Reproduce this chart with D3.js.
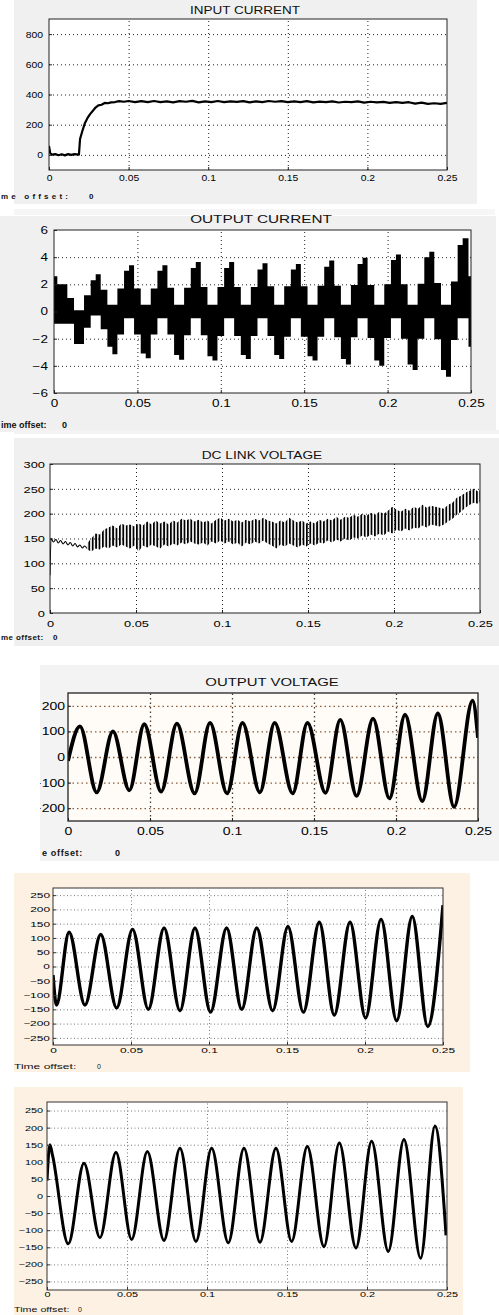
<!DOCTYPE html>
<html>
<head>
<meta charset="utf-8">
<title>Scope traces</title>
<style>
  body { margin: 0; background: #fff; }
  svg { display: block; font-family: "Liberation Sans", Arial, sans-serif; }
</style>
</head>
<body>
<div id="chart"></div>
<script src="https://d3js.org/d3.v7.min.js"></script>
<script>
// shared time axis (s)
var timeTicks = [0, 0.05, 0.1, 0.15, 0.2, 0.25];
var timeTickLabels = ["0", "0.05", "0.1", "0.15", "0.2", "0.25"];

// y ticks of each scope
var inTicks = [0, 200, 400, 600, 800];
var curTicks = [-6, -4, -2, 0, 2, 4, 6];
var dcTicks = [0, 50, 100, 150, 200, 250, 300];
var ovTicks = [-200, -100, 0, 100, 200];
var vTicks = [-250, -200, -150, -100, -50, 0, 50, 100, 150, 200, 250];

// INPUT CURRENT  [t, A]
var inputCurrent = [[0,60],[0.0008,10],[0.002,2],[0.004,5],[0.006,-2],[0.008,4],[0.010,-3],[0.012,5],
  [0.014,0],[0.016,5],[0.0188,2],[0.0195,105],[0.021,160],[0.0226,212],[0.0242,245],[0.0258,270],
  [0.029,311],[0.031,328],[0.033,332],[0.035,344],[0.037,342],[0.039,348],[0.0415,350],[0.044,356],
  [0.047,352],[0.05,357],[0.054,350],[0.058,356],[0.062,349],[0.066,357],[0.07,350],[0.074,355],
  [0.078,348],[0.082,356],[0.086,352],[0.09,358],[0.094,348],[0.098,355],[0.102,350],[0.106,357],
  [0.11,349],[0.114,355],[0.118,351],[0.122,356],[0.126,348],[0.13,355],[0.134,350],[0.138,357],
  [0.142,352],[0.146,356],[0.15,349],[0.154,354],[0.158,350],[0.162,356],[0.166,348],[0.17,353],
  [0.174,350],[0.178,355],[0.182,347],[0.186,352],[0.19,349],[0.194,354],[0.198,346],[0.202,352],
  [0.206,348],[0.21,351],[0.214,345],[0.218,350],[0.222,344],[0.226,349],[0.23,340],[0.234,346],
  [0.238,338],[0.242,342],[0.246,338],[0.25,344]];

// OUTPUT CURRENT switching band  [t, lower, upper] (held until next t)
var outputCurrent = [[0,-0.9,2.6],[0.002,-0.9,2.0],[0.008,-0.9,1.0],[0.012,-2.4,0.1],[0.018,-1.2,1.2],
  [0.022,-0.3,2.3],[0.025,-0.3,2.75],[0.028,-1.3,1.6],[0.032,-2.6,0.5],[0.035,-3.15,0.5],[0.038,-1.7,1.7],
  [0.042,-0.5,3.0],[0.045,-0.5,3.4],[0.048,-1.7,1.7],[0.052,-3.1,0.5],[0.055,-3.45,0.5],[0.058,-1.7,1.7],
  [0.062,-0.5,3.0],[0.065,-0.5,3.4],[0.068,-1.7,1.75],[0.072,-3.2,0.5],[0.075,-3.55,0.5],[0.078,-1.75,1.75],
  [0.082,-0.5,3.2],[0.085,-0.5,3.65],[0.088,-1.75,1.8],[0.092,-3.3,0.5],[0.095,-3.6,0.5],[0.098,-1.8,1.8],
  [0.102,-0.5,3.2],[0.105,-0.5,3.65],[0.108,-1.8,1.8],[0.112,-3.2,0.5],[0.115,-3.5,0.5],[0.118,-1.8,1.8],
  [0.122,-0.5,3.1],[0.125,-0.5,3.55],[0.128,-1.8,1.85],[0.132,-3.2,0.5],[0.135,-3.5,0.5],[0.138,-1.85,1.85],
  [0.142,-0.5,3.1],[0.145,-0.5,3.5],[0.148,-1.85,1.85],[0.152,-3.3,0.5],[0.155,-3.6,0.5],[0.158,-1.85,1.9],
  [0.162,-0.5,3.3],[0.165,-0.5,3.75],[0.168,-1.9,1.9],[0.172,-3.5,0.5],[0.175,-3.9,0.5],[0.178,-1.9,1.95],
  [0.182,-0.5,3.5],[0.185,-0.5,3.95],[0.188,-1.95,1.95],[0.192,-3.6,0.5],[0.195,-4.0,0.5],[0.198,-1.95,2.0],
  [0.202,-0.5,3.8],[0.205,-0.5,4.2],[0.208,-2.0,2.0],[0.212,-3.9,0.5],[0.215,-4.3,0.5],[0.218,-2.0,2.05],
  [0.222,-0.5,4.0],[0.225,-0.5,4.4],[0.228,-2.05,2.1],[0.232,-4.3,0.5],[0.235,-4.8,0.5],[0.238,-2.1,2.2],
  [0.242,-0.5,4.9],[0.245,-0.5,5.4],[0.2485,-2.6,2.6],[0.25,-2.6,2.6]];

// DC LINK VOLTAGE: start-up trace [t, V] then ripple band [t, lower, upper]
var dcStart = [[0,76],[0.0006,150],[0.002,143],[0.0035,148],[0.0048,141],[0.0062,146],[0.0076,139],
  [0.009,144],[0.0104,137],[0.0118,142],[0.0132,135],[0.0146,140],[0.016,133],[0.0174,137],[0.0188,131],
  [0.0202,135],[0.0215,130]];
var dcBand = [[0.0215,128,140],[0.024,124,150],[0.0265,130,160],[0.029,128,158],[0.0315,134,168],
  [0.034,130,172],[0.0365,136,176],[0.039,132,170],[0.0415,138,180],[0.044,134,176],[0.0465,130,178],
  [0.049,136,174],[0.0515,124,180],[0.054,136,176],[0.0565,132,184],[0.059,138,178],[0.0615,134,186],
  [0.064,130,180],[0.0665,138,184],[0.069,134,178],[0.0715,140,186],[0.074,136,182],[0.0765,142,190],
  [0.079,138,186],[0.0815,144,190],[0.084,140,184],[0.0865,138,188],[0.089,142,182],[0.0915,136,186],
  [0.094,144,180],[0.0965,140,188],[0.099,146,192],[0.1015,140,186],[0.104,144,190],[0.1065,138,184],
  [0.109,142,188],[0.1115,134,182],[0.114,142,188],[0.1165,138,184],[0.119,144,190],[0.1215,140,186],
  [0.124,146,192],[0.1265,140,186],[0.129,136,184],[0.1315,130,180],[0.134,138,186],[0.1365,134,182],
  [0.139,140,192],[0.1415,136,186],[0.144,132,182],[0.1465,138,186],[0.149,134,180],[0.1515,140,184],
  [0.154,136,180],[0.1565,142,188],[0.159,140,184],[0.1615,146,190],[0.164,142,186],[0.1665,148,194],
  [0.169,144,188],[0.1715,150,194],[0.174,146,192],[0.1765,152,198],[0.179,150,194],[0.1815,156,200],
  [0.184,152,196],[0.1865,158,202],[0.189,154,198],[0.1915,160,204],[0.194,156,200],[0.1965,164,206],
  [0.199,160,214],[0.2015,168,208],[0.204,164,204],[0.2065,170,210],[0.209,166,206],[0.2115,172,214],
  [0.214,170,210],[0.2165,176,218],[0.219,172,212],[0.2215,178,216],[0.224,176,214],[0.2265,174,212],
  [0.229,178,210],[0.2315,184,218],[0.234,190,222],[0.2365,198,232],[0.239,204,236],[0.2415,212,242],
  [0.244,218,246],[0.2465,222,250],[0.249,220,244],[0.25,224,248]];

// OUTPUT VOLTAGE traces: turning points [t, V]
var outVoltage = [[0,-15],[0.0073,120],[0.0175,-138],[0.0274,100],[0.0374,-130],[0.0465,128],[0.0568,-135],
  [0.0664,130],[0.0772,-142],[0.0866,133],[0.097,-142],[0.1064,133],[0.117,-138],[0.126,133],[0.137,-142],
  [0.146,133],[0.157,-140],[0.166,145],[0.176,-152],[0.186,150],[0.196,-162],[0.2055,165],[0.216,-172],
  [0.2255,170],[0.2354,-195],[0.2467,220],[0.25,75]];
var voltageB = [[0,-30],[0.0022,-135],[0.0103,120],[0.0205,-135],[0.0306,112],[0.0408,-145],[0.051,130],
  [0.0611,-150],[0.0712,135],[0.0814,-155],[0.091,135],[0.101,-160],[0.1113,135],[0.121,-150],[0.1306,135],
  [0.1408,-155],[0.1506,140],[0.1605,-160],[0.1707,155],[0.1803,-170],[0.1904,155],[0.2004,-180],[0.2103,165],
  [0.2203,-190],[0.2303,175],[0.2402,-210],[0.25,215]];
var voltageC = [[0,45],[0.0018,150],[0.0035,118],[0.0133,-140],[0.0231,96],[0.0331,-122],[0.0431,128],
  [0.0529,-127],[0.0627,130],[0.0731,-130],[0.0831,140],[0.0931,-133],[0.1029,140],[0.1133,-137],[0.1231,140],
  [0.1331,-135],[0.1431,140],[0.1529,-133],[0.1627,145],[0.1731,-148],[0.1827,155],[0.1931,-152],[0.2029,160],
  [0.2133,-162],[0.2231,165],[0.2335,-182],[0.2425,205],[0.2494,-115]];

var svg = d3.select("#chart").append("svg").attr("width", 499).attr("height", 1315);
var defs = svg.append("defs");

// vertical stripes give the ripple texture inside the dc link band
var pat = defs.append("pattern").attr("id", "ripple")
  .attr("patternUnits", "userSpaceOnUse").attr("width", 3.4).attr("height", 20);
pat.append("rect").attr("width", 1.8).attr("height", 20).attr("fill", "#000");

function stretch(sel, k, mode) {
  if (!k || k === 1) return;
  sel.each(function() {
    var w = this.getComputedTextLength();
    d3.select(this).attr("textLength", w * k).attr("lengthAdjust", mode || "spacingAndGlyphs");
  });
}

function scope(p) {
  var g = svg.append("g");
  if (p.win) {
    defs.append("clipPath").attr("id", p.id + "-win").append("rect")
      .attr("x", p.win[0]).attr("y", p.win[1]).attr("width", p.win[2]).attr("height", p.win[3]);
    g.attr("clip-path", "url(#" + p.id + "-win)");
  }
  p.backs.forEach(function(b) {
    g.append("rect").attr("x", b[0]).attr("y", b[1]).attr("width", b[2]).attr("height", b[3]).attr("fill", b[4]);
  });

  var bx = p.box;
  var x = d3.scaleLinear().domain([0, 0.25]).range([bx.l, bx.r]);
  var y = d3.scaleLinear().domain(p.yDomain).range([bx.b, bx.t]);

  g.append("rect").attr("x", bx.l).attr("y", bx.t).attr("width", bx.r - bx.l).attr("height", bx.b - bx.t)
    .attr("fill", p.plotFill || "#fff");

  // dotted grid
  var inner = function(v, d) { return v > d3.min(d) && v < d3.max(d); };
  g.append("g").attr("transform", "translate(0," + bx.b + ")")
    .call(d3.axisBottom(x).tickValues(timeTicks.filter(function(v) { return inner(v, x.domain()); }))
      .tickSize(-(bx.b - bx.t)).tickFormat(""))
    .call(function(s) { s.select(".domain").remove(); })
    .selectAll("line").attr("stroke", p.vGrid).attr("stroke-width", p.gridW || 1).attr("stroke-dasharray", p.dash);
  g.append("g").attr("transform", "translate(" + bx.l + ",0)")
    .call(d3.axisLeft(y).tickValues(p.yTicks.filter(function(v) { return inner(v, y.domain()); }))
      .tickSize(-(bx.r - bx.l)).tickFormat(""))
    .call(function(s) { s.select(".domain").remove(); })
    .selectAll("line").attr("stroke", p.hGrid).attr("stroke-width", p.gridW || 1).attr("stroke-dasharray", p.dash);

  defs.append("clipPath").attr("id", p.id + "-plot").append("rect")
    .attr("x", bx.l).attr("y", bx.t).attr("width", bx.r - bx.l).attr("height", bx.b - bx.t);
  p.draw(g.append("g").attr("clip-path", "url(#" + p.id + "-plot)"), x, y);

  g.append("rect").attr("x", bx.l).attr("y", bx.t).attr("width", bx.r - bx.l).attr("height", bx.b - bx.t)
    .attr("fill", "none").attr("stroke", p.frame).attr("stroke-width", p.frameW || 1);

  // tick labels
  var ax = g.append("g").attr("transform", "translate(0," + bx.b + ")")
    .call(d3.axisBottom(x).tickValues(timeTicks).tickSize(-3).tickPadding(0)
      .tickFormat(function(d, i) { return timeTickLabels[i]; }));
  ax.select(".domain").remove();
  ax.attr("font-size", null).attr("font-family", null);
  ax.selectAll("line").attr("stroke", p.frame);
  ax.selectAll("text").attr("y", p.xLab).attr("dy", null).attr("font-size", p.fs).attr("fill", "#000")
    .call(stretch, p.k);

  var ay = g.append("g").attr("transform", "translate(" + bx.l + ",0)")
    .call(d3.axisLeft(y).tickValues(p.yTicks).tickSize(-3).tickPadding(p.yPad));
  ay.select(".domain").remove();
  ay.attr("font-size", null).attr("font-family", null);
  ay.selectAll("line").attr("stroke", p.frame);
  ay.selectAll("text").attr("font-size", p.fs).attr("dy", "0.34em").attr("fill", "#000")
    .call(stretch, p.k);

  if (p.title) {
    g.append("text").attr("x", p.title[1]).attr("y", p.title[2]).attr("text-anchor", "middle")
      .attr("font-size", p.title[3]).attr("fill", "#111").text(p.title[0])
      .call(stretch, p.title[4]);
  }
  // "Time offset" line under each scope (left part hidden by the crop in the source)
  var f = p.foot;
  g.append("text").attr("x", f[1]).attr("y", f[2])
    .attr("font-size", f[3]).attr("font-weight", f[4]).attr("fill", "#111").text(f[0])
    .call(stretch, f[5], f[6]);
  g.append("text").attr("x", f[7]).attr("y", f[2]).attr("font-size", f[3]).attr("font-weight", f[4])
    .attr("fill", "#111").text("0");
}

function trace(data, width, curve) {
  return function(g, x, y) {
    g.append("path").datum(data)
      .attr("d", d3.line().x(function(d) { return x(d[0]); }).y(function(d) { return y(d[1]); }).curve(curve))
      .attr("fill", "none").attr("stroke", "#000").attr("stroke-width", width).attr("stroke-linejoin", "round");
  };
}

var gray = "#f0f0f0", cream = "#fcf1e3";

scope({ id: "p1", yDomain: [-100, 900], yTicks: inTicks,
  backs: [[14, 0, 463, 204, gray], [14, 209, 481, 6, "#f6f6f6"]],
  box: { l: 49, r: 447, t: 19, b: 170 },
  vGrid: "#222", hGrid: "#222", dash: "1,3", frame: "#222",
  fs: 9, k: 1.15, xLab: 11, yPad: 6,
  title: ["INPUT CURRENT", 245, 14, 10, 1.35],
  foot: ["me offset:", 1, 199, 8, "bold", 1.75, "spacing", 89],
  draw: trace(inputCurrent, 2.2, d3.curveLinear) });

scope({ id: "p2", yDomain: [-6, 6], yTicks: curTicks,
  backs: [[0, 216, 496, 216, gray]],
  box: { l: 54, r: 471, t: 230, b: 393 },
  vGrid: "#222", hGrid: "#222", dash: "1,3", frame: "#222",
  fs: 10, k: 1.35, xLab: 13.5, yPad: 6,
  title: ["OUTPUT CURRENT", 261, 223, 10, 1.53],
  foot: ["ime offset:", 1, 428, 9, "bold", 1.0, "spacing", 62],
  draw: function(g, x, y) {
    g.append("path").datum(outputCurrent)
      .attr("d", d3.area().x(function(d) { return x(d[0]); })
        .y0(function(d) { return y(d[1]); }).y1(function(d) { return y(d[2]); }).curve(d3.curveStepAfter))
      .attr("fill", "#000");
  } });

scope({ id: "p3", yDomain: [0, 300], yTicks: dcTicks,
  backs: [[14, 430, 485, 4, "#f3f3f3"], [14, 438, 485, 208, gray]],
  box: { l: 50, r: 480, t: 464, b: 613 },
  vGrid: "#222", hGrid: "#222", dash: "1,3", frame: "#222",
  fs: 9.5, k: 1.35, xLab: 14, yPad: 5,
  title: ["DC LINK VOLTAGE", 262, 459, 10, 1.37],
  foot: ["me offset:", 1, 640, 8, "bold", 1.1, "spacing", 53],
  draw: function(g, x, y) {
    trace(dcStart, 1.1, d3.curveMonotoneX)(g, x, y);
    g.append("path").datum(dcBand)
      .attr("d", d3.area().x(function(d) { return x(d[0]); })
        .y0(function(d) { return y(d[1]); }).y1(function(d) { return y(d[2]); }))
      .attr("fill", "url(#ripple)");
  } });

scope({ id: "p4", yDomain: [-250, 250], yTicks: ovTicks, win: [40, 665, 459, 196],
  backs: [[40, 665, 459, 196, "#f3f3f3"]],
  box: { l: 68, r: 478, t: 693, b: 821 }, plotFill: "#fffcf7",
  vGrid: "#4a3a30", hGrid: "#8a5a3a", dash: "1.5,3", gridW: 1.3, frame: "#222", frameW: 1.3,
  fs: 10, k: 1.4, xLab: 14, yPad: 3,
  title: ["OUTPUT VOLTAGE", 272, 686, 10.5, 1.42],
  foot: ["e offset:", 42, 856, 9, "bold", 1.15, "spacing", 115],
  draw: trace(outVoltage, 3.8, d3.curveMonotoneX) });

scope({ id: "p5", yDomain: [-275, 275], yTicks: vTicks,
  backs: [[14, 873, 456, 199, cream], [14, 1087, 449, 8, cream]],
  box: { l: 53, r: 443, t: 888, b: 1045 },
  vGrid: "#777", hGrid: "#777", dash: "1,2.5", frame: "#333",
  fs: 7, k: 1.7, xLab: 8, yPad: 3,
  foot: ["Time offset:", 14, 1069, 7, "normal", 1.72, "spacingAndGlyphs", 97],
  draw: trace(voltageB, 3.4, d3.curveMonotoneX) });

scope({ id: "p6", yDomain: [-275, 275], yTicks: vTicks,
  backs: [[14, 1095, 449, 220, cream]],
  box: { l: 47, r: 447, t: 1102, b: 1290 },
  vGrid: "#777", hGrid: "#777", dash: "1,2.5", frame: "#333",
  fs: 7, k: 1.55, xLab: 7, yPad: 4,
  foot: ["Time offset:", 14, 1312, 7, "normal", 1.53, "spacingAndGlyphs", 78],
  draw: trace(voltageC, 3.0, d3.curveMonotoneX) });
</script>
</body>
</html>
